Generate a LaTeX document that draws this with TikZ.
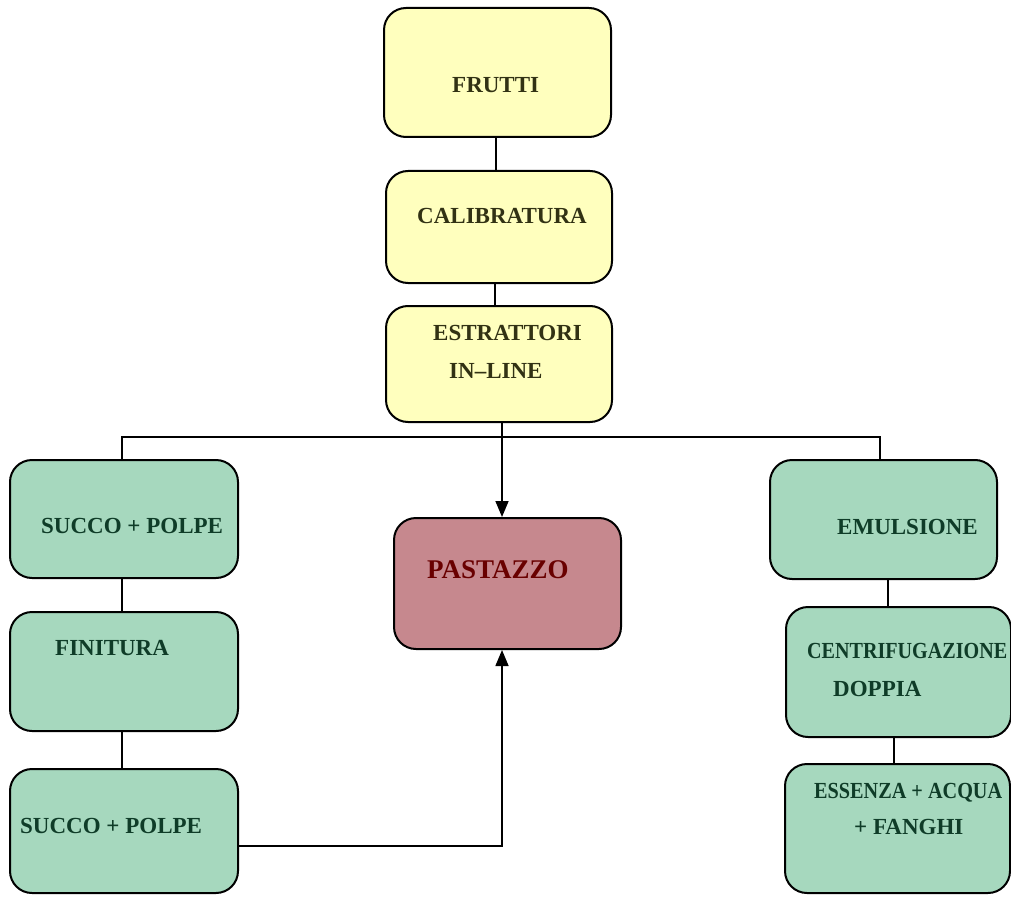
\documentclass[tikz,border=0pt]{standalone}
\usepackage{fontspec}
\usepackage{graphicx}
\setmainfont{Liberation Serif}
\usetikzlibrary{arrows.meta}
\definecolor{yfill}{RGB}{255,255,190}
\definecolor{gfill}{RGB}{166,216,190}
\definecolor{rfill}{RGB}{198,136,142}
\definecolor{ytext}{RGB}{50,50,20}
\definecolor{gtext}{RGB}{15,60,40}
\definecolor{rtext}{RGB}{105,0,0}
\tikzset{
  box/.style={draw=black, line width=2pt, rounded corners=22pt, inner sep=0pt},
  ybox/.style={box, fill=yfill},
  gbox/.style={box, fill=gfill},
  rbox/.style={box, fill=rfill},
  lbl/.style={font=\bfseries\fontsize{23}{27}\selectfont, inner sep=0pt, anchor=base west},
  conn/.style={line width=1.6pt},
  arr/.style={conn, -{Triangle[width=13pt,length=16pt]}}
}
\begin{document}
\begin{tikzpicture}[x=1pt,y=-1pt]
\useasboundingbox (0,0) rectangle (1011,896);
% boxes
\node[ybox, minimum width=227pt, minimum height=129pt] (frutti) at (497.5,72.5) {};
\node[ybox, minimum width=226pt, minimum height=112pt] (calib) at (499,227) {};
\node[ybox, minimum width=226pt, minimum height=116pt] (estr) at (499,364) {};
\node[gbox, minimum width=228pt, minimum height=118pt] (s1) at (124,519) {};
\node[gbox, minimum width=228pt, minimum height=119pt] (fin) at (124,671.5) {};
\node[gbox, minimum width=228pt, minimum height=124pt] (s2) at (124,831) {};
\node[rbox, minimum width=227pt, minimum height=131pt] (past) at (507.5,583.5) {};
\node[gbox, minimum width=227pt, minimum height=119pt] (emul) at (883.5,519.5) {};
\node[gbox, minimum width=225pt, minimum height=130pt] (cent) at (898.5,672) {};
\node[gbox, minimum width=225pt, minimum height=129pt] (ess) at (897.5,828.5) {};
% texts
\node[lbl, text=ytext] (tfrutti) at (452,93) {FRUTTI};
\node[lbl, text=ytext] (tcalib) at (417,223) {CALIBRATURA};
\node[lbl, text=ytext] (testr1) at (433,340) {ESTRATTORI};
\node[lbl, text=ytext] (testr2) at (449,378) {IN--LINE};
\node[lbl, text=gtext] (ts1) at (41,533) {SUCCO + POLPE};
\node[lbl, text=gtext] (tfin) at (55,655) {FINITURA};
\node[lbl, text=gtext] (ts2) at (20,833) {SUCCO + POLPE};
\node[lbl, text=rtext, font=\bfseries\fontsize{27}{31}\selectfont] (tpast) at (427,578) {PASTAZZO};
\node[lbl, text=gtext] (temul) at (837,534) {EMULSIONE};
\node[lbl, text=gtext] (tcent1) at (807,658) {\resizebox{200pt}{\height}{CENTRIFUGAZIONE}};
\node[lbl, text=gtext] (tcent2) at (833,696) {DOPPIA};
\node[lbl, text=gtext] (tess1) at (814,798) {\resizebox{188pt}{\height}{ESSENZA + ACQUA}};
\node[lbl, text=gtext] (tess2) at (854,834) {+ FANGHI};
% junctions
\coordinate (j) at (502,437);
\coordinate (jl) at (122,437);
\coordinate (jr) at (880,437);
\coordinate (k) at (502,846);
% connectors
\draw[conn] (frutti.south -| 496,0) -- (calib.north -| 496,0);
\draw[conn] (calib.south -| 495,0) -- (estr.north -| 495,0);
\draw[arr] (j |- estr.south) -- (j |- past.north);
\draw[conn] (jl |- s1.north) -- (jl) -- (jr) -- (jr |- emul.north);
\draw[conn] (s1.south -| 122,0) -- (fin.north -| 122,0);
\draw[conn] (fin.south -| 122,0) -- (s2.north -| 122,0);
\draw[conn] (emul.south -| 888,0) -- (cent.north -| 888,0);
\draw[conn] (cent.south -| 894,0) -- (ess.north -| 894,0);
\draw[arr] (s2.east |- k) -- (k) -- (k |- past.south);
\end{tikzpicture}
\end{document}
